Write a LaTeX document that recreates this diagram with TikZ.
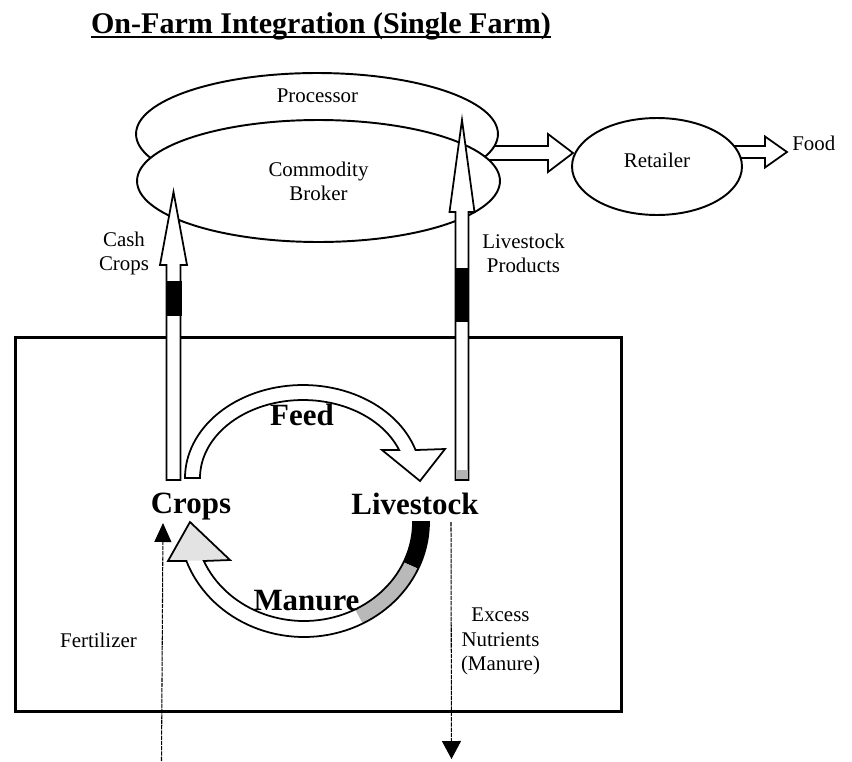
\documentclass[tikz,border=0pt]{standalone}
\usepackage{fontspec}
\setmainfont{Liberation Serif}
\usetikzlibrary{shapes.geometric,arrows.meta,calc}
\newcommand\feedpath{plot[domain=180:342.5,samples=60] ({303+118*cos(\x)},{478+93*sin(\x)}) -- (445,449) -- (420,481) -- (382,450) -- plot[domain=339:180,samples=60] ({303+103*cos(\x)},{478+78*sin(\x)}) -- cycle}
\newcommand\manurepath{plot[domain=0:160.2,samples=60] ({304+125*cos(\x)},{522+115*sin(\x)}) -- (168,561) -- (190,522) -- (230,560) -- plot[domain=156.8:0,samples=60] ({304+109*cos(\x)},{522+99*sin(\x)}) -- cycle}
\begin{document}
\begin{tikzpicture}[x=0.02cm,y=-0.02cm,
  lbl/.style={font=\fontsize{11.9}{13.8}\selectfont, inner sep=0pt, align=center},
  big/.style={font=\fontsize{17.6}{20}\selectfont\bfseries, inner sep=0pt},
  ell/.style={ellipse, draw, fill=white, line width=1.1pt, inner sep=0pt},
  blk/.style={draw, fill=white, line width=1pt, line join=miter},
  thinarr/.style={line width=0.6pt, dash pattern=on 2.5pt off 0.5pt},
]
\useasboundingbox (0,0) rectangle (852,761);
\fill[white] (0,0) rectangle (852,761);

% title
\node[font=\fontsize{17.1}{20}\selectfont\bfseries, inner sep=0pt, anchor=base] (title) at (321,33) {On-Farm Integration (Single Farm)};
\draw[line width=1.4pt] ($(title.base west)+(0,4)$) -- ($(title.base east)+(0,4)$);

% farm box
\node[draw, line width=1.7pt, minimum width=12.14cm, minimum height=7.5cm, inner sep=0pt] (farm) at (318.5,524.5) {};

% broker -> retailer arrow (under ellipses)
\path[blk] (480,146) -- (548,146) -- (548,134) -- (573,153) -- (548,172) -- (548,160) -- (480,160);

% processor and broker ellipses
\node[ell, minimum width=7.24cm, minimum height=2.44cm] (processor) at (317,134) {};
\node[lbl, anchor=base] (proctext) at (317.5,102) {Processor};
\node[ell, lbl, minimum width=7.26cm, minimum height=2.44cm] (broker) at (318.5,181) {Commodity\\Broker};

% cash crops arrow
\path[blk] (166.5,480) -- (166.5,265) -- (160,265) -- (173.5,192) -- (187,265) -- (180.5,265) -- (180.5,480) -- cycle;
\fill[black] (166,281) rectangle (181.5,316);
% livestock products arrow
\path[blk] (455.5,480) -- (455.5,212) -- (449.5,212) -- (462,120) -- (474.5,212) -- (468.5,212) -- (468.5,480) -- cycle;
\fill[black] (455.5,268) rectangle (468.5,322);
\fill[gray!60] (456.2,470) rectangle (467.8,479.3);

% retailer -> food arrow
\path[blk] (725,146) -- (765,146) -- (765,136.5) -- (787,152) -- (765,167.5) -- (765,158) -- (725,158);
\node[ell, minimum width=3.4cm, minimum height=1.94cm] (retailer) at (657,166.5) {};
\node[lbl, anchor=base] (rettext) at (657,167) {Retailer};
\node[lbl, anchor=base west] (food) at (792,150) {Food};

% feed arrow
\fill[white] \feedpath;
\draw[line width=1pt, line join=miter] \feedpath;

% manure arrow
\fill[white] \manurepath;
\fill[black] plot[domain=0:24,samples=20] ({304+125*cos(\x)},{522+115*sin(\x)}) -- plot[domain=24:0,samples=20] ({304+109*cos(\x)},{522+99*sin(\x)}) -- cycle;
\fill[gray!55] plot[domain=24:62,samples=20] ({304+125*cos(\x)},{522+115*sin(\x)}) -- plot[domain=62:24,samples=20] ({304+109*cos(\x)},{522+99*sin(\x)}) -- cycle;
\fill[gray!22] (168,561) -- (190,522) -- (230,560) -- cycle;
\draw[line width=1pt, line join=miter] \manurepath;

% thin arrows
\coordinate (fertS) at (161.5,761);
\coordinate (fertE) at (163,523);
\draw[thinarr, -{Triangle[width=0.34cm,length=0.38cm]}] (fertS) -- (fertE);
\coordinate (exS) at (451,522);
\coordinate (exE) at (451.5,759);
\draw[thinarr, -{Triangle[width=0.38cm,length=0.36cm]}] (exS) -- (exE);

% labels
\node[lbl] (cash) at (124,253.4) {Cash\\Crops};
\node[lbl] (lsprod) at (523.5,253.4) {Livestock\\Products};
\node[lbl, anchor=base] (fert) at (98.5,647) {Fertilizer};
\node[lbl] (excess) at (500.5,641.4) {Excess\\Nutrients\\(Manure)};

\node[big, anchor=base] (feed) at (302,425) {Feed};
\node[big, anchor=base] (crops) at (191,513) {Crops};
\node[big, anchor=base] (livestock) at (415,514) {Livestock};
\node[big, anchor=base] (manure) at (306.5,610) {Manure};
\end{tikzpicture}
\end{document}
